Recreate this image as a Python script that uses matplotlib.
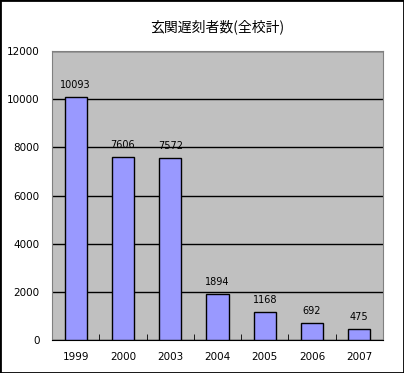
import numpy as np
import matplotlib
matplotlib.use('Agg')
import matplotlib.pyplot as plt
from matplotlib.patches import Rectangle

plt.rcParams['font.family'] = ['Noto Sans CJK JP', 'DejaVu Sans']

# Datos
years = ['1999', '2000', '2003', '2004', '2005', '2006', '2007']
counts = [10093, 7606, 7572, 1894, 1168, 692, 475]
yticks = [0, 2000, 4000, 6000, 8000, 10000, 12000]

fig = plt.figure(figsize=(4.04, 3.73), dpi=100)
fig.patch.set_facecolor('white')
ax = fig.add_axes([52 / 404, 1 - 340 / 373, 331 / 404, 289 / 373])

x = np.arange(len(years))
bars = ax.bar(x, counts, width=0.47, color='#9999FF', edgecolor='black',
              linewidth=1, zorder=3)
ax.bar_label(bars, labels=[str(c) for c in counts], padding=5, fontsize=7,
             family='DejaVu Sans')

ax.set_facecolor('#C0C0C0')
ax.set_xlim(-0.5, len(years) - 0.5)
ax.set_ylim(0, 12000)
ax.set_yticks(yticks)
ax.set_yticklabels(yticks, fontsize=7.5, family='DejaVu Sans')
ax.yaxis.grid(True, color='black', linewidth=1, zorder=1)
ax.tick_params(axis='y', length=0, pad=9)

# ticks en el eje x entre categorías
ax.set_xticks(x)
ax.set_xticklabels(years, fontsize=7.5, family='DejaVu Sans')
ax.set_xticks(np.arange(-0.5, len(years)), minor=True)
ax.tick_params(axis='x', which='major', length=0, pad=9)
ax.tick_params(axis='x', which='minor', length=4, direction='in', color='black')

for s in ['top', 'right', 'left']:
    ax.spines[s].set_color('#808080')
ax.spines['bottom'].set_color('black')

ax.set_title('玄関遅刻者数(全校計)', fontsize=10, pad=14)

# borde exterior
fig.patches.append(Rectangle((0, 0), 1, 1, transform=fig.transFigure,
                             fill=False, edgecolor='black', linewidth=2))

fig.savefig('out.png', dpi=100)
